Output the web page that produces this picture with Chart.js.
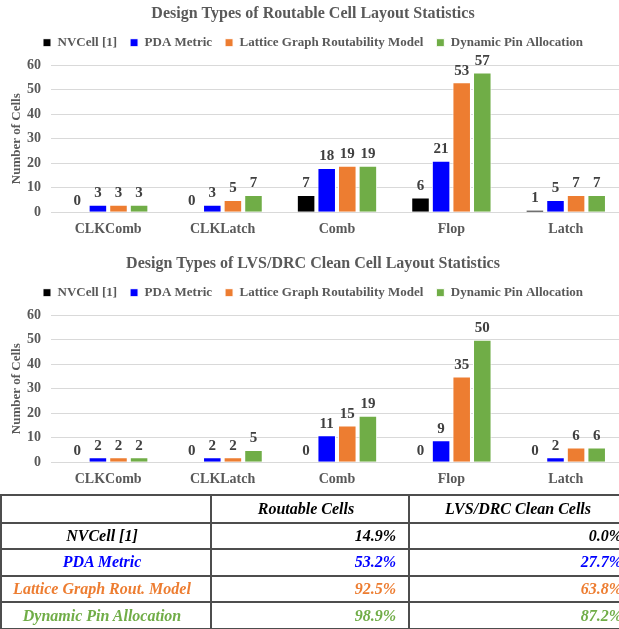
<!DOCTYPE html>
<html>
<head>
<meta charset="utf-8">
<script src="https://cdn.jsdelivr.net/npm/chart.js@4"></script>
<style>
  body { margin: 0; background: #fff; width: 619px; height: 629px; overflow: hidden; position: relative; }
  .box { position: absolute; left: 0; width: 623px; height: 247px; }
  #c1 { top: 0; }
  #c2 { top: 250px; }
  table { position: absolute; left: 0; top: 494px; width: 634px; border-collapse: collapse; table-layout: fixed;
    font-family: "Liberation Serif", "Times New Roman", serif; font-weight: bold; font-style: italic; font-size: 16px; }
  td { border: 2px solid #4d4d4d; padding: 0 12px 0 4px; height: 24.6px; white-space: nowrap; }
  tr:first-child td { height: 25.5px; text-align: center; }
  td:first-child { text-align: center; }
  td.v { text-align: right; }
</style>
</head>
<body>
<div class="box" id="c1"><canvas id="bar-chart-1"></canvas></div>
<div class="box" id="c2"><canvas id="bar-chart-2"></canvas></div>
<table id="tabla">
  <colgroup><col style="width:210px"><col style="width:198px"><col style="width:226px"></colgroup>
</table>
<script>
const categorias = ["CLKComb", "CLKLatch", "Comb", "Flop", "Latch"];
const metodos = ["NVCell [1]", "PDA Metric", "Lattice Graph Routability Model", "Dynamic Pin Allocation"];
const colores = ["#000000", "#0000ff", "#ed7d31", "#70ad47"];

// routable cells
const nvcellRout = [0, 0, 7, 6, 1];
const pdaRout = [3, 3, 18, 21, 5];
const latticeRout = [3, 5, 19, 53, 7];
const dynamicRout = [3, 7, 19, 57, 7];

// LVS/DRC clean cells
const nvcellClean = [0, 0, 0, 0, 0];
const pdaClean = [2, 2, 11, 9, 2];
const latticeClean = [2, 2, 15, 35, 6];
const dynamicClean = [2, 5, 19, 50, 6];

const yTicks = [0, 10, 20, 30, 40, 50, 60];

// tabla
const filasTabla = ["NVCell [1]", "PDA Metric", "Lattice Graph Rout. Model", "Dynamic Pin Allocation"];
const columnasTabla = ["Routable Cells", "LVS/DRC Clean Cells"];
const pctRoutable = ["14.9%", "53.2%", "92.5%", "98.9%"];
const pctClean = ["0.0%", "27.7%", "63.8%", "87.2%"];

const gris = "#595959";
const fuente = "'Liberation Serif', 'Times New Roman', serif";

// numeros encima de las barras
const etiquetas = {
  id: "etiquetas",
  afterDatasetsDraw(chart) {
    const ctx = chart.ctx;
    ctx.save();
    ctx.font = "bold 15px " + fuente;
    ctx.fillStyle = "#404040";
    ctx.textAlign = "center";
    ctx.textBaseline = "bottom";
    chart.data.datasets.forEach((ds, i) => {
      chart.getDatasetMeta(i).data.forEach((bar, j) => {
        ctx.fillText(ds.data[j], bar.x, bar.y - 4);
      });
    });
    ctx.restore();
  }
};

// un poco de aire debajo de la leyenda
const espacioLeyenda = {
  id: "espacioLeyenda",
  beforeInit(chart) {
    const fitOrig = chart.legend.fit;
    chart.legend.fit = function () {
      fitOrig.bind(chart.legend)();
      this.height += 6;
    };
  }
};

function crearChart(id, titulo, series) {
  const contenedor = document.querySelector(id).getContext("2d");
  return new Chart(contenedor, {
    type: "bar",
    data: {
      labels: categorias,
      datasets: series.map((data, i) => ({
        label: metodos[i],
        data: data,
        backgroundColor: colores[i],
        borderColor: "#ffffff",
        borderWidth: 1,
        categoryPercentage: 0.72,
        barPercentage: 0.9,
      })),
    },
    options: {
      responsive: true,
      maintainAspectRatio: false,
      animation: false,
      layout: { padding: { left: 3, right: 0, top: 0, bottom: 0 } },
      plugins: {
        title: {
          display: true,
          text: titulo,
          color: gris,
          font: { family: fuente, size: 16, weight: "bold" },
          padding: { top: 4, bottom: 0 },
        },
        legend: {
          position: "top",
          labels: {
            color: gris,
            font: { family: fuente, size: 13, weight: "bold" },
            boxWidth: 8,
            boxHeight: 8,
            padding: 13,
          },
        },
        tooltip: { enabled: false },
      },
      scales: {
        x: {
          grid: { display: false, drawTicks: false, tickLength: 0 },
          border: { color: "#d9d9d9" },
          ticks: { color: gris, padding: 9, font: { family: fuente, size: 14, weight: "bold" } },
        },
        y: {
          min: 0,
          max: 60,
          afterBuildTicks(axis) { axis.ticks = yTicks.map(v => ({ value: v })); },
          afterFit(axis) { axis.width = 48; },
          grid: { color: "#d9d9d9", drawTicks: false, tickLength: 0 },
          border: { display: false },
          ticks: { color: gris, font: { family: fuente, size: 14, weight: "bold" }, padding: 10 },
          title: {
            display: true,
            text: "Number of Cells",
            color: gris,
            font: { family: fuente, size: 13, weight: "bold" },
            padding: { top: 6, bottom: 2 },
          },
        },
      },
    },
    plugins: [etiquetas, espacioLeyenda],
  });
}

crearChart("#bar-chart-1", "Design Types of Routable Cell Layout Statistics",
  [nvcellRout, pdaRout, latticeRout, dynamicRout]);
crearChart("#bar-chart-2", "Design Types of LVS/DRC Clean Cell Layout Statistics",
  [nvcellClean, pdaClean, latticeClean, dynamicClean]);

const tabla = document.querySelector("#tabla");
let html = "<tr><td></td>" + columnasTabla.map(c => "<td>" + c + "</td>").join("") + "</tr>";
filasTabla.forEach((f, i) => {
  html += '<tr style="color:' + colores[i] + '"><td>' + f + '</td><td class="v">' + pctRoutable[i] +
    '</td><td class="v">' + pctClean[i] + "</td></tr>";
});
tabla.insertAdjacentHTML("beforeend", html);
</script>
</body>
</html>
